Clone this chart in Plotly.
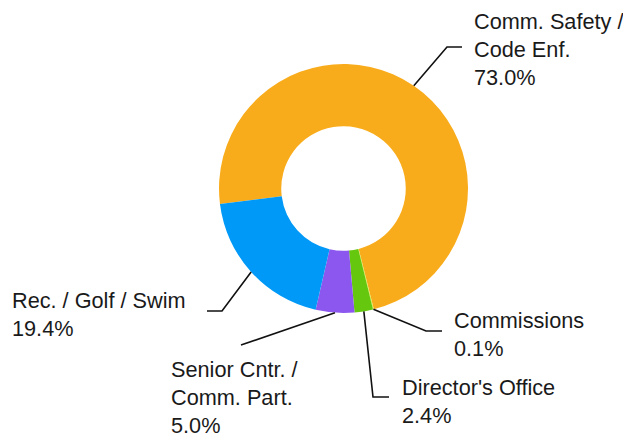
import math
import plotly.graph_objects as go

# ---- data ----
categories = ["Comm. Safety /<br>Code Enf.", "Commissions", "Director's Office",
              "Senior Cntr. /<br>Comm. Part.", "Rec. / Golf / Swim"]
shares = [73.0, 0.1, 2.4, 5.0, 19.4]
colors = ["#F9AC1B", "#E3E83A", "#66C70F", "#8B57EE", "#0099F8"]

# ---- layout constants (pixels, in window coordinates) ----
PAGE_MARGIN = 8          # browser default body margin
W, H = 631 - PAGE_MARGIN, 438 - PAGE_MARGIN
CX, CY, R = 343.5, 188.5, 124.5
ROTATION = 262.85

def px(x):
    return (x - PAGE_MARGIN) / W

def py(y):
    return 1 - (y - PAGE_MARGIN) / H

# label layout: path after slice point (elbow / end points) and text placement
label_layout = [
    dict(path=[(447, 47), (462, 47)], text=(472, 49), xanchor="left"),
    dict(path=[(426, 331), (442, 331)], text=(452, 334), xanchor="left"),
    dict(path=[(373, 397), (389, 397)], text=(400, 401), xanchor="left"),
    dict(path=[(241, 345)], text=(169, 397.5), xanchor="left"),
    dict(path=[(222, 311), (207, 311)], text=(188, 314), xanchor="right"),
]

fig = go.Figure(go.Pie(
    labels=categories,
    values=shares,
    marker=dict(colors=colors, line=dict(width=0)),
    hole=0.5,
    sort=False,
    direction="clockwise",
    rotation=ROTATION,
    textinfo="none",
    hoverinfo="label+percent",
    showlegend=False,
    domain=dict(x=[px(CX - R), px(CX + R)], y=[py(CY + R), py(CY - R)]),
))

total = sum(shares)
angle = ROTATION
shapes = []
annotations = []
for cat, val, lay in zip(categories, shares, label_layout):
    span = val / total * 360
    mid = math.radians(angle + span / 2)
    angle += span
    sx = CX + R * math.sin(mid)
    sy = CY - R * math.cos(mid)
    pts = [(sx, sy)] + lay["path"]
    path = "M " + " L ".join(f"{px(x):.5f},{py(y):.5f}" for x, y in pts)
    shapes.append(dict(type="path", path=path, xref="paper", yref="paper",
                       line=dict(color="#111111", width=1.6)))
    annotations.append(dict(
        x=px(lay["text"][0]), y=py(lay["text"][1]), xref="paper", yref="paper",
        xanchor=lay["xanchor"], yanchor="middle", align="left",
        text=f"{cat}<br>{val:.1f}%", showarrow=False,
        font=dict(family="Arial, Liberation Sans, sans-serif", size=21.7, color="#1a1a1a"),
    ))

fig.update_layout(
    width=W, height=H,
    margin=dict(l=0, r=0, t=0, b=0),
    paper_bgcolor="white", plot_bgcolor="white",
    shapes=shapes, annotations=annotations,
)

fig.write_html("out.html")
